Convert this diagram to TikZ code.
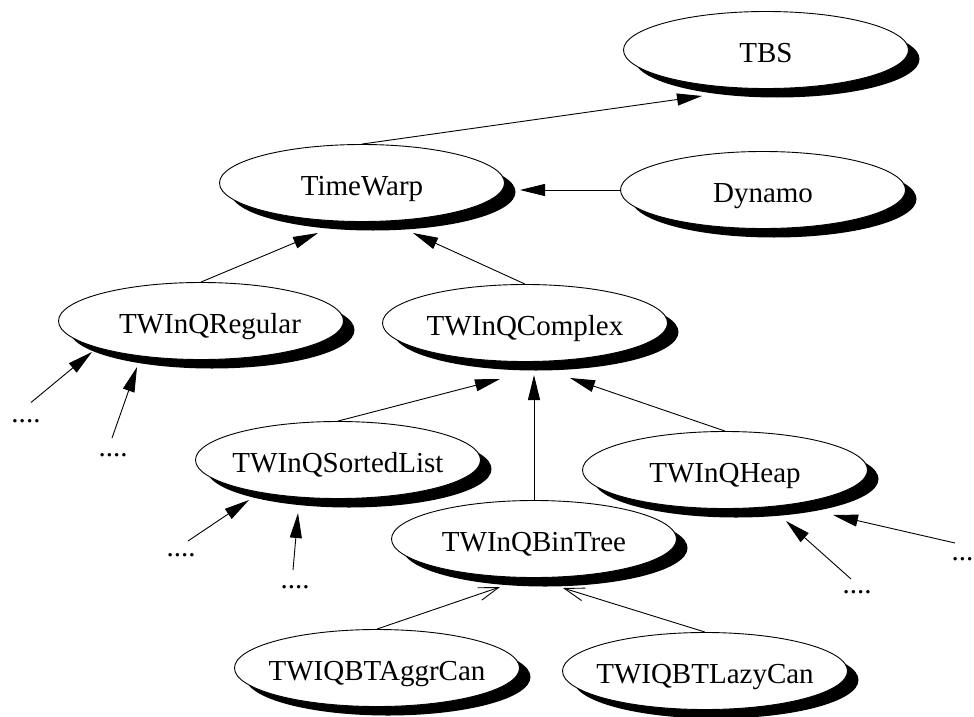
\documentclass[tikz,border=0pt]{standalone}
\usepackage{fontspec}
\setmainfont{Liberation Serif}
\usetikzlibrary{shapes.geometric,shadows,arrows.meta}
\begin{document}
\begin{tikzpicture}[x=1pt,y=-1pt,
  cls/.style={ellipse, draw, line width=0.9pt, fill=white,
    minimum width=285pt, minimum height=77pt, inner sep=0pt,
    text height=25pt, text depth=0pt,
    font=\fontsize{29}{34}\selectfont,
    drop shadow={shadow xshift=11pt,shadow yshift=-9pt,opacity=1,fill=black}},
  dots/.style={inner sep=0pt, anchor=base, font=\fontsize{29}{34}\selectfont},
  inh/.style={line width=0.9pt, -{Triangle[length=25pt,width=12pt]}},
  agg/.style={line width=0.9pt, -{Straight Barb[length=20pt,width=13pt]}}]
\clip (0,0) rectangle (974,717);
\useasboundingbox (0,0) rectangle (974,717);

% classes
\node[cls] (TBS) at (766,50) {\makebox[0pt]{TBS}};
\node[cls] (TW) at (362,183) {\makebox[0pt]{TimeWarp}};
\node[cls] (DY) at (763,190) {\makebox[0pt]{Dynamo}};
\node[cls] (REG) at (201,321) {\makebox[0pt]{\hspace{18pt}TWInQRegular}};
\node[cls] (CPX) at (525,323) {\makebox[0pt]{TWInQComplex}};
\node[cls] (SL) at (338,460) {\makebox[0pt]{TWInQSortedList}};
\node[cls] (HP) at (725,470) {\makebox[0pt]{TWInQHeap}};
\node[cls] (BT) at (534,539) {\makebox[0pt]{TWInQBinTree}};
\node[cls] (AC) at (377,668) {\makebox[0pt]{TWIQBTAggrCan}};
\node[cls] (LC) at (705,671) {\makebox[0pt]{TWIQBTLazyCan}};

% dots
\node[dots] (d1) at (26,422.5) {....};
\node[dots] (d2) at (113,456.5) {....};
\node[dots] (d3) at (181,556.5) {....};
\node[dots] (d4) at (295,588.5) {....};
\node[dots] (d5) at (857,593.5) {....};
\node[dots] (d6) at (966,560.5) {....};

% inheritance arrows
\draw[inh] (TW.north) -- ([shift={(-64,46)}]TBS.center);
\draw[inh] (DY.west) -- ([shift={(158,7)}]TW.center);
\draw[inh] (REG.north) -- ([shift={(-44,50)}]TW.center);
\draw[inh] (CPX.north) -- ([shift={(51,50)}]TW.center);
\draw[inh] (SL.north) -- ([shift={(-25,56)}]CPX.center);
\draw[inh] (BT.north) -- ([shift={(9,52)}]CPX.center);
\draw[inh] (HP.north) -- ([shift={(45,55)}]CPX.center);
\draw[agg] (AC.north) -- ([shift={(-34,48)}]BT.center);
\draw[agg] (LC.north) -- ([shift={(29,49)}]BT.center);

\draw[inh] ([shift={(5,-20)}]d1.base) -- ([shift={(-109,31)}]REG.center);
\draw[inh] ([shift={(-1,-18.5)}]d2.base) -- ([shift={(-64,46)}]REG.center);
\draw[inh] ([shift={(7,-15.5)}]d3.base) -- ([shift={(-89,40)}]SL.center);
\draw[inh] ([shift={(-2,-18.5)}]d4.base) -- ([shift={(-40,53)}]SL.center);
\draw[inh] ([shift={(-6,-14.5)}]d5.base) -- ([shift={(61,51)}]HP.center);
\draw[inh] ([shift={(-11,-17.5)}]d6.base) -- ([shift={(108,45)}]HP.center);
\end{tikzpicture}
\end{document}
